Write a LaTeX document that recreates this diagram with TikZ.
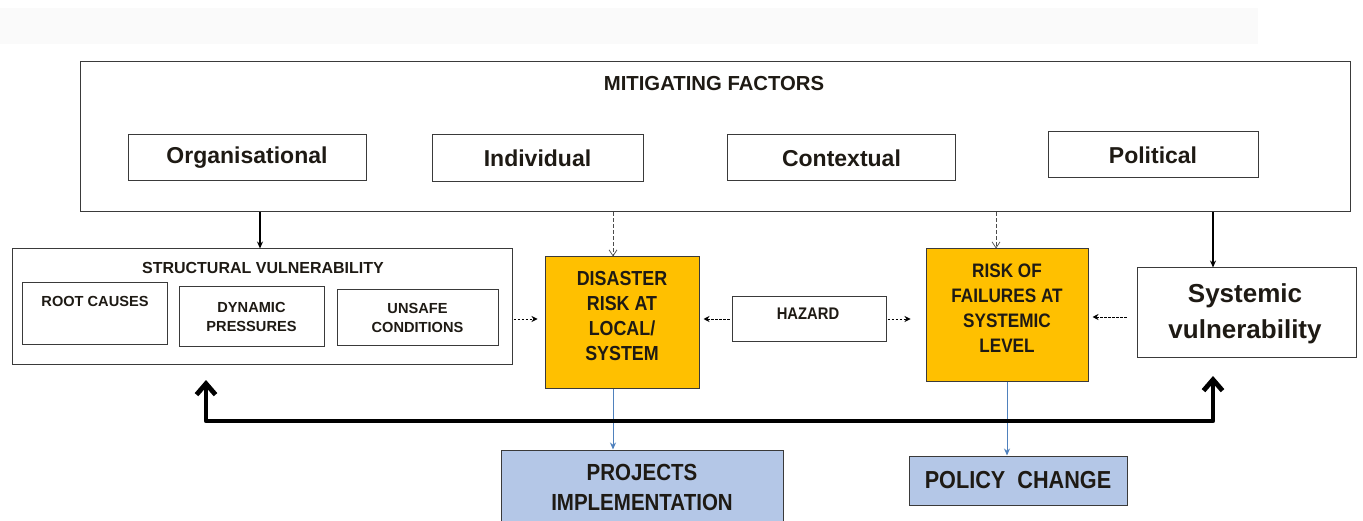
\documentclass[tikz,border=0pt]{standalone}
\usepackage{fontspec}
\setmainfont{Liberation Sans}
\newfontfamily\narrowf[FakeStretch=0.88]{Liberation Sans}
\usetikzlibrary{arrows.meta}
\definecolor{orng}{HTML}{FFC000}
\definecolor{lblue}{HTML}{B4C7E7}
\definecolor{sblue}{HTML}{4F81BD}
\definecolor{edge}{HTML}{3A3A3A}
\definecolor{ink}{HTML}{1E1A14}
\tikzset{
  box/.style={draw=edge, line width=1pt, fill=white, inner sep=0pt},
  obox/.style={draw=edge, line width=1pt, fill=orng, inner sep=0pt},
  bbox/.style={draw=edge, line width=1pt, fill=lblue, inner sep=0pt, align=center, text=ink},
  lbl/.style={inner sep=0pt, align=center, text=ink},
  olbl/.style={inner sep=0pt, align=center, text=ink, font=\narrowf\bfseries\fontsize{20.3}{25}\selectfont},
  solidarr/.style={draw=black, line width=1.2pt, -{Stealth[length=7pt,width=6pt]}},
  dasharr/.style={draw=black, line width=0.8pt, dash pattern=on 2.5pt off 1.5pt, -{Stealth[length=6pt,width=6pt]}},
  vdasharr/.style={draw=black!70, line width=0.7pt, dash pattern=on 4pt off 2pt, -{Straight Barb[length=6pt,width=8pt,line width=0.7pt]}},
  bluearr/.style={draw=sblue, line width=1pt, -{Stealth[length=7pt,width=6pt]}},
  thickarr/.style={draw=black, line width=4.8pt, line join=round, {Straight Barb[length=11pt,width=19pt]}-{Straight Barb[length=11pt,width=19pt]}},
}
\begin{document}
\begin{tikzpicture}[x=1pt,y=-1pt]
\useasboundingbox (0,0) rectangle (1363,521);
\fill[black!2] (0,8) rectangle (1258,44);
% mitigating factors
\node[box, minimum width=1270pt, minimum height=150pt] (mit) at (715,137) {};
\node[lbl, font=\bfseries\fontsize{20.3}{24}\selectfont] (mitt) at (714,84) {MITIGATING FACTORS};
\node[box, minimum width=238pt, minimum height=46pt, text=ink, font=\bfseries\fontsize{23}{26}\selectfont] (org) at (247,158) {Organisational};
\node[box, minimum width=211pt, minimum height=47pt, text=ink, font=\bfseries\fontsize{23}{26}\selectfont] (ind) at (537.5,158.5) {Individual};
\node[box, minimum width=228pt, minimum height=46pt, text=ink, font=\bfseries\fontsize{23}{26}\selectfont] (con) at (841.5,158) {Contextual};
\node[box, minimum width=210pt, minimum height=46pt, text=ink, font=\bfseries\fontsize{23}{26}\selectfont] (pol) at (1153,155) {Political};
% structural vulnerability
\node[box, minimum width=500pt, minimum height=115pt] (strv) at (262,306.5) {};
\node[lbl, font=\bfseries\fontsize{16}{20}\selectfont] (strvt) at (263,268) {STRUCTURAL VULNERABILITY};
\node[box, minimum width=145pt, minimum height=62pt] (root) at (94.5,314) {};
\node[lbl, font=\bfseries\fontsize{14.6}{19}\selectfont] (roott) at (95,301) {ROOT CAUSES};
\node[box, minimum width=145pt, minimum height=60pt, align=center, text=ink, font=\bfseries\fontsize{14.6}{19}\selectfont] (dyn) at (251.5,317) {DYNAMIC\\PRESSURES};
\node[box, minimum width=161pt, minimum height=56pt, align=center, text=ink, font=\bfseries\fontsize{14.6}{19}\selectfont] (uns) at (417.5,318) {UNSAFE\\CONDITIONS};
% orange boxes
\node[obox, minimum width=154pt, minimum height=131pt] (dis) at (622,322.5) {};
\node[olbl] (dist) at (622,316) {DISASTER\\RISK AT\\LOCAL/\\SYSTEM};
\node[obox, minimum width=162pt, minimum height=132pt] (fail) at (1007,315) {};
\node[olbl, font=\narrowf\bfseries\fontsize{19.5}{25}\selectfont] (failt) at (1007,308) {RISK OF\\FAILURES AT\\SYSTEMIC\\LEVEL};
% hazard
\node[box, minimum width=154pt, minimum height=45pt] (haz) at (809,319.5) {};
\node[lbl, font=\narrowf\bfseries\fontsize{16.8}{20}\selectfont] (hazt) at (808,314) {HAZARD};
% systemic vulnerability
\node[box, minimum width=219pt, minimum height=89pt] (sysv) at (1246.5,312.5) {};
\node[lbl, font=\bfseries\fontsize{26}{36}\selectfont] (sysvt) at (1245,314) {Systemic\\vulnerability};
% blue boxes
\node[bbox, minimum width=282pt, minimum height=74pt, font=\narrowf\bfseries\fontsize{23.3}{30}\selectfont] (proj) at (642,487) {PROJECTS\\IMPLEMENTATION};
\node[bbox, minimum width=218pt, minimum height=49pt, font=\narrowf\bfseries\fontsize{24.6}{28}\selectfont] (pol2) at (1018,480.5) {POLICY\ \ CHANGE};
% arrows from mitigating factors
\draw[solidarr] (mit.south -| 260,0) -- (strv.north -| 260,0);
\draw[solidarr] (mit.south -| 1213,0) -- (sysv.north -| 1213,0);
\draw[vdasharr] (mit.south -| 613,0) -- (dis.north -| 613,0);
\draw[vdasharr] (mit.south -| 996,0) -- (fail.north -| 996,0);
% horizontal dashed arrows
\draw[dasharr, shorten <=1pt, shorten >=7pt] (strv.east |- 0,319) -- (dis.west |- 0,319);
\draw[dasharr, shorten <=2pt, shorten >=4pt] (haz.west |- 0,319) -- (dis.east |- 0,319);
\draw[dasharr, shorten <=1pt, shorten >=15pt] (haz.east |- 0,319) -- (fail.west |- 0,319);
\draw[dasharr, shorten <=10pt, shorten >=4pt] (sysv.west |- 0,317) -- (fail.east |- 0,317);
% blue arrows
\draw[bluearr] (dis.south -| 613,0) -- (proj.north -| 613,0);
\draw[bluearr] (fail.south -| 1007,0) -- (pol2.north -| 1007,0);
% thick feedback arrow
\coordinate (fbl) at (206,380);
\coordinate (fbr) at (1213,376);
\draw[thickarr] (fbl) -- (206,421) -- (1213,421) -- (fbr);
\end{tikzpicture}
\end{document}
